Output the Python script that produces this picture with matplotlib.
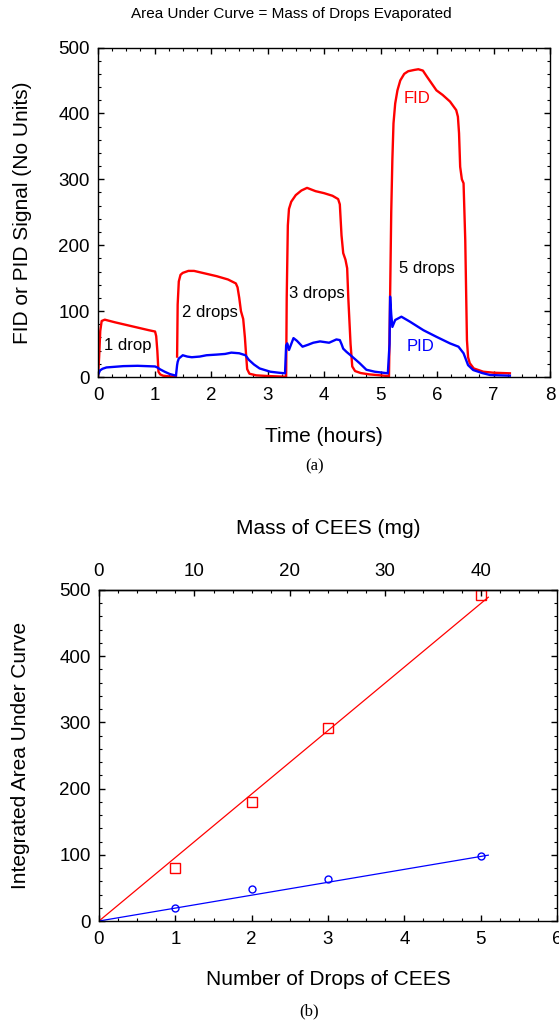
import numpy as np
import matplotlib
matplotlib.use("Agg")
import matplotlib.pyplot as plt
from matplotlib.ticker import MultipleLocator, FixedLocator

plt.rcParams['font.family'] = ['Liberation Sans', 'DejaVu Sans']
plt.rcParams['axes.linewidth'] = 1.0

nan = np.nan
# ---------------- Panel (a): detector signal vs time ----------------
fid_t = [0.00, 0.02, 0.04, 0.065, 0.12, 0.30, 0.50, 0.70, 0.90, 1.01, 1.03, 1.05, 1.07, 1.10, 1.15, 1.25, 1.38,
         nan,
         1.40, 1.41, 1.43, 1.46, 1.50, 1.60, 1.70, 1.90, 2.10, 2.30, 2.44, 2.47, 2.50, 2.53, 2.57, 2.60, 2.62,
         2.64, 2.68, 2.80, 3.00, 3.30,
         3.33, 3.34, 3.36, 3.38, 3.42, 3.50, 3.60, 3.70, 3.85, 4.00, 4.15, 4.25, 4.28, 4.31, 4.34, 4.38, 4.41,
         4.43, 4.45, 4.47, 4.50, 4.55, 4.65, 4.80, 5.00, 5.12, 5.15,
         5.16, 5.17, 5.19, 5.21, 5.23, 5.26, 5.30, 5.35, 5.42, 5.49, 5.60, 5.67, 5.75, 5.82, 5.99, 6.10, 6.23,
         6.34, 6.37, 6.39, 6.41, 6.44, 6.47, 6.50, 6.53, 6.55, 6.58, 6.65, 6.82, 7.00, 7.29]
fid_v = [0, 30, 70, 85, 87, 83, 79, 75, 71, 69, 62, 40, 8, 4, 2, 1, 0.5,
         nan,
         31, 110, 145, 155, 158, 161, 161, 157, 153, 148, 142, 136, 120, 100, 88, 60, 35,
         12, 5, 2.5, 1.5, 0.5,
         0, 120, 230, 255, 266, 276, 283, 287, 282, 279, 275, 270, 262, 215, 188, 178, 165,
         120, 85, 50, 16, 9, 6, 4, 2.5, 1.5, 0,
         60, 122, 250, 330, 385, 415, 435, 450, 460, 464, 466, 467, 465, 456, 435, 428, 418,
         405, 395, 370, 319, 300, 294, 208, 56, 30, 21, 13, 8, 6.5, 5.6]

pid_t = [0.00, 0.035, 0.08, 0.15, 0.30, 0.45, 0.70, 1.01, 1.05, 1.10, 1.18, 1.27, 1.38, 1.40, 1.41, 1.43,
         1.50, 1.58, 1.66, 1.80, 1.92, 2.10, 2.25, 2.36, 2.50, 2.61, 2.67, 2.76, 2.86, 3.05, 3.20, 3.31,
         3.33, 3.35, 3.38, 3.42, 3.46, 3.52, 3.62, 3.72, 3.81, 3.93, 4.09, 4.22, 4.28, 4.31, 4.34, 4.40,
         4.47, 4.55, 4.63, 4.75, 4.90, 5.13, 5.16, 5.17, 5.19, 5.21, 5.26, 5.37, 5.52, 5.76, 5.99, 6.23,
         6.38, 6.47, 6.55, 6.64, 6.80, 6.94, 7.29]
pid_v = [3, 10, 12.5, 14.5, 15.5, 16.5, 17, 16, 14.5, 11.6, 8, 4.5, 2, 18, 23, 28,
         33, 31, 30, 31, 33, 34, 35, 37, 36, 33, 26, 19, 13, 8, 6.5, 5.6,
         48, 51, 41, 50, 59, 55, 46, 49, 52, 54, 52, 57, 56, 50, 43, 38,
         33, 27, 21, 11, 8, 5.6, 50, 122, 95, 76, 86.5, 91.5, 84, 71, 61, 51,
         46, 36, 18, 10.6, 6, 3, 2]

drop_labels = ['1 drop', '2 drops', '3 drops', '5 drops']
drop_label_x = [0.11, 1.49, 3.38, 5.33]
drop_label_y = [48, 98, 126, 164]

# ---------------- Panel (b): integrated area vs drops ----------------
drops = [1, 2, 3, 5]
fid_area = [80, 180, 291, 493]
pid_area = [19, 48, 64, 98]
fid_slope = 95.9
pid_slope = 19.5
fit_x = [0, 5.1]
mg_per_drop = 8.0
mass_ticks = [0, 10, 20, 30, 40]

W, H = 559, 1025
fig = plt.figure(figsize=(W / 100, H / 100), dpi=100)

def frac(l, r, t, b):
    return [l / W, 1 - b / H, (r - l) / W, (b - t) / H]

RED = '#ff0000'
BLUE = '#0000ff'
TICK_FS = 13.5
LAB_FS = 15

# ----- panel (a)
ax1 = fig.add_axes(frac(98, 550, 47.5, 377))
ax1.plot(fid_t, fid_v, color=RED, lw=1.7)
ax1.plot(pid_t, pid_v, color=BLUE, lw=1.7)
ax1.set_xlim(0, 8)
ax1.set_ylim(0, 500)
ax1.xaxis.set_major_locator(MultipleLocator(1))
ax1.xaxis.set_minor_locator(MultipleLocator(0.25))
ax1.yaxis.set_major_locator(MultipleLocator(100))
ax1.yaxis.set_minor_locator(MultipleLocator(20))
ax1.tick_params(which='both', direction='in', top=True, right=True, labelsize=TICK_FS)
ax1.tick_params(which='major', length=4, width=1.0)
ax1.tick_params(which='minor', length=2, width=0.8)
ax1.tick_params(axis='x', pad=7)
ax1.tick_params(axis='y', pad=6)
for s, x, y in zip(drop_labels, drop_label_x, drop_label_y):
    ax1.text(x, y, s, fontsize=12, ha='left', va='center', color='black')
ax1.text(5.41, 422, 'FID', fontsize=12, color=RED, ha='left', va='center')
ax1.text(5.46, 46, 'PID', fontsize=12, color=BLUE, ha='left', va='center')
ax1.set_xlabel('Time (hours)', fontsize=LAB_FS, va='center')
ax1.xaxis.set_label_coords(0.5, -0.181)
ax1.set_ylabel('FID or PID Signal (No Units)', fontsize=LAB_FS, va='center')
ax1.yaxis.set_label_coords(-0.168, 0.5)

fig.text(291 / W, 1 - 14.3 / H, 'Area Under Curve = Mass of Drops Evaporated',
         fontsize=11, ha='center', va='center')
fig.text(315 / W, 1 - 466 / H, '(a)', fontsize=12, ha='center', va='center',
         family=['Liberation Serif', 'DejaVu Serif'])

# ----- panel (b)
ax2 = fig.add_axes(frac(99, 557, 590, 921))
ax2.plot(drops, fid_area, linestyle='none', marker='s', ms=6.5, mfc='none', mec=RED, mew=1.0)
ax2.plot(drops, pid_area, linestyle='none', marker='o', ms=5, mfc='none', mec=BLUE, mew=1.0)
ax2.plot(fit_x, [fid_slope * v for v in fit_x], color=RED, lw=0.9)
ax2.plot(fit_x, [pid_slope * v for v in fit_x], color=BLUE, lw=0.9)
ax2.set_xlim(0, 6)
ax2.set_ylim(0, 500)
ax2.xaxis.set_major_locator(MultipleLocator(1))
ax2.xaxis.set_minor_locator(MultipleLocator(0.25))
ax2.yaxis.set_major_locator(MultipleLocator(100))
ax2.yaxis.set_minor_locator(MultipleLocator(20))
ax2.tick_params(which='both', direction='in', right=True, labelsize=TICK_FS)
ax2.tick_params(which='major', length=4, width=1.0)
ax2.tick_params(which='minor', length=2, width=0.8)
ax2.tick_params(axis='x', pad=7)
ax2.tick_params(axis='y', pad=6)
ax2.set_xlabel('Number of Drops of CEES', fontsize=LAB_FS, va='center')
ax2.xaxis.set_label_coords(0.5, -0.178)
ax2.set_ylabel('Integrated Area Under Curve', fontsize=LAB_FS, va='center')
ax2.yaxis.set_label_coords(-0.171, 0.5)

sec = ax2.secondary_xaxis('top', functions=(lambda d: d * mg_per_drop, lambda m: m / mg_per_drop))
sec.xaxis.set_major_locator(FixedLocator(mass_ticks))
sec.xaxis.set_minor_locator(MultipleLocator(2))
sec.tick_params(which='both', direction='in', labelsize=TICK_FS)
sec.tick_params(which='major', length=4, width=1.0, pad=7)
sec.tick_params(which='minor', length=2, width=0.8)
sec.set_xlabel('Mass of CEES (mg)', fontsize=LAB_FS, va='center')
sec.xaxis.set_label_coords(0.5, 1.187, transform=ax2.transAxes)

fig.text(309 / W, 1 - 1011.7 / H, '(b)', fontsize=12, ha='center', va='center',
         family=['Liberation Serif', 'DejaVu Serif'])

fig.savefig('out.png', dpi=100)
